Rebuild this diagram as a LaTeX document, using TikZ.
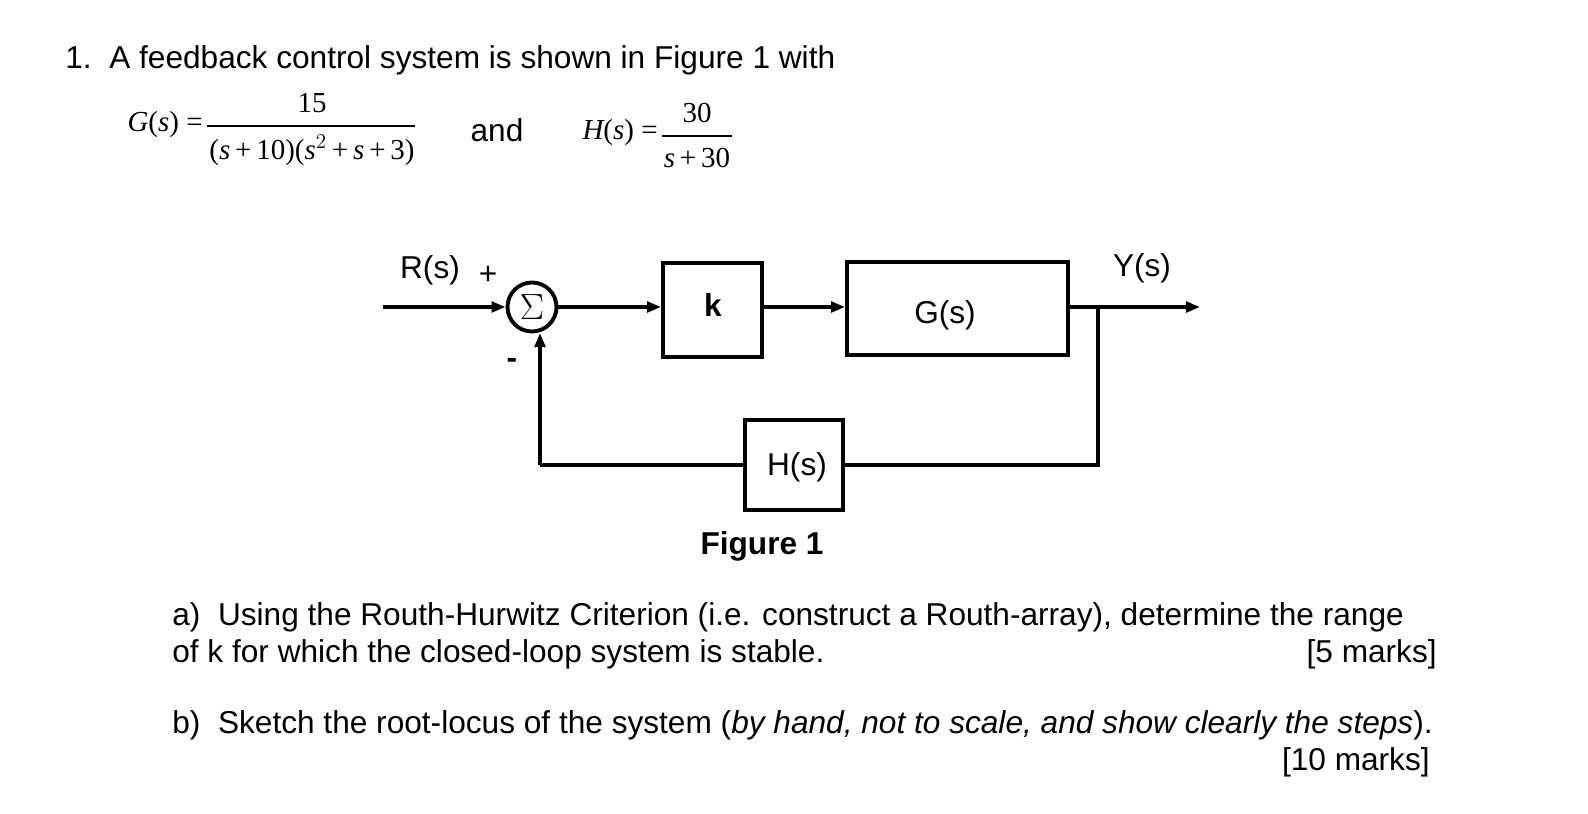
\documentclass[tikz,border=0pt]{standalone}
\usepackage{fontspec}
\setmainfont{Liberation Sans}
\newfontfamily\tms{Liberation Serif}
\usetikzlibrary{arrows.meta}
\begin{document}
\begin{tikzpicture}[x=0.02cm,y=-0.02cm,
  txt/.style={inner sep=0pt,font=\fontsize{18}{21}\selectfont},
  frm/.style={inner sep=0pt,font=\tms\fontsize{16.5}{19}\selectfont},
  blk/.style={draw,line width=2.2pt,inner sep=0pt},
  ln/.style={line width=2.2pt},
  arr/.style={ln,-{Triangle[length=8pt,width=6pt]}}]
\useasboundingbox (0,0) rectangle (1588,814);
\node[txt,anchor=west] (t1) at (65,60) {1.\ \ A feedback control system is shown in Figure 1 with};
\node[frm,anchor=east] (gl) at (203,125) {\itshape G\upshape(\itshape s\upshape) =};
\node[frm] (gn) at (312,103) {15};
\draw[line width=0.7pt] (207,126) -- (415,126);
\node[frm] (gd) at (312,150) {(\itshape s\upshape\,+\,10)(\itshape s\upshape$^{2}$\,+\,\itshape s\upshape\,+\,3)};
\node[txt] (and) at (497,130) {and};
\node[frm,anchor=east] (hl) at (658,133) {\itshape H\upshape(\itshape s\upshape) =};
\node[frm] (hn) at (697,113) {30};
\draw[line width=0.7pt] (662,136) -- (732,136);
\node[frm] (hd) at (697,158) {\itshape s\upshape\,+\,30};
% diagram
\coordinate (in) at (383,307);
\node[draw,circle,line width=2.2pt,inner sep=0pt,minimum size=0.98cm,font=\tms\fontsize{20}{22}\selectfont] (sum) at (532,307) {$\Sigma$};
\node[blk,minimum width=1.98cm,minimum height=1.88cm] (k) at (712.5,310) {};
\node[txt,font=\bfseries\fontsize{18}{21}\selectfont] (kl) at (713,305) {k};
\node[blk,minimum width=4.42cm,minimum height=1.86cm] (g) at (957.5,308.5) {};
\node[txt] (gl2) at (945,315) {G(s)};
\node[blk,minimum width=1.96cm,minimum height=1.8cm] (h) at (794,465) {};
\node[txt] (hl2) at (797,467) {H(s)};
\coordinate (out) at (1200,307);
\coordinate (br) at (1098,307);
\coordinate (c1) at (1098,465);
\coordinate (c2) at (540,465);
\node[txt] (r) at (430,270) {R(s)};
\node[txt] (plus) at (488,275) {+};
\node[txt] (minus) at (512,363) {\textbf{-}};
\node[txt] (y) at (1142,268) {Y(s)};
\draw[arr] (in) -- (sum.west);
\draw[arr] (sum.east) -- (k.west|-sum.east);
\draw[arr] (k.east|-sum) -- (g.west|-sum);
\draw[arr] (g.east|-sum) -- (out);
\draw[ln] (br) -- (c1) -- (h.east|-c1);
\draw[ln] (h.west) -- (c2);
\draw[arr] (c2) -- (540,333);
\node[txt,font=\bfseries\fontsize{18}{21}\selectfont] (fig) at (762,546) {Figure 1};
\node[txt,anchor=west] (a1) at (172,617) {a)\ \ Using the Routh-Hurwitz Criterion (i.e. construct a Routh-array), determine the range};
\node[txt,anchor=west] (a2) at (172,654) {of k for which the closed-loop system is stable.};
\node[txt,anchor=east] (a3) at (1437,654) {[5 marks]};
\node[txt,anchor=west] (b1) at (172,725) {b)\ \ Sketch the root-locus of the system (\textit{by hand, not to scale, and show clearly the steps}).};
\node[txt,anchor=east] (b2) at (1430,762) {[10 marks]};
\end{tikzpicture}
\end{document}
